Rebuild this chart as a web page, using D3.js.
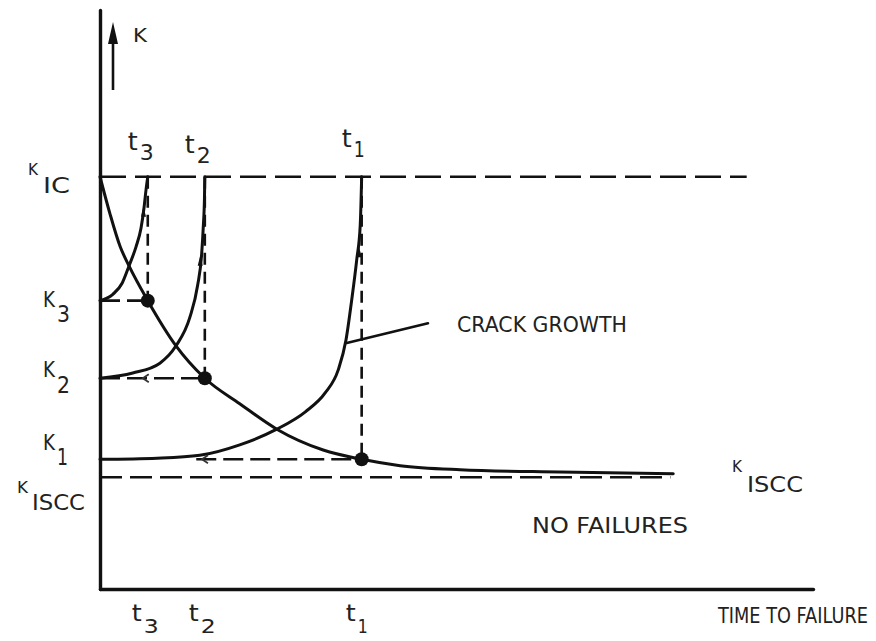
<!DOCTYPE html>
<html>
<head>
<meta charset="utf-8">
<script src="https://cdn.jsdelivr.net/npm/d3@7"></script>
<style>
  html, body { margin: 0; padding: 0; background: #fff; }
  svg { display: block; }
  text { font-family: "DejaVu Sans", "Liberation Sans", sans-serif; fill: #222; }
</style>
</head>
<body>
<div id="chart"></div>
<script>
// Stress-intensity levels (arbitrary units on the K axis)
const levelNames  = ["IC", "3", "2", "1", "ISCC"];
const levelValues = [71.2, 49.8, 36.4, 22.4, 19.3];

// Failure times for the three starting levels (t3, t2, t1)
const failNames = ["3", "2", "1"];
const failTimes = [6.7, 14.7, 36.7];

// Time-to-failure curve: initial K versus time to failure
const fractureT = [0, 1.4, 2.81, 4.07, 6.7, 10.66, 14.7, 19.6, 24.8, 31.3, 36.7, 42.1, 50.5, 64.5, 80.4];
const fractureK = [71.2, 64.8, 59.2, 55.8, 49.8, 42.0, 36.4, 32.0, 27.6, 24.0, 22.4, 21.3, 20.6, 20.2, 19.9];

// Crack-growth histories, K rising with time until K_IC is reached
const growth3T = [0, 1.8, 3.1, 4.07, 5.05, 5.75, 6.17, 6.45, 6.7];
const growth3K = [49.8, 50.9, 52.8, 55.8, 59.1, 62.3, 65.8, 68.9, 71.2];
const growth2T = [0, 4.6, 8.4, 10.66, 12.6, 13.7, 14.25, 14.5, 14.65, 14.7];
const growth2K = [36.4, 37.3, 39.0, 42.0, 46.9, 52.5, 57.7, 62.9, 67.4, 71.2];
const growth1T = [0, 8.0, 14.0, 19.6, 24.8, 28.8, 31.6, 33.4, 34.5, 35.3, 36.0, 36.5, 36.7];
const growth1K = [22.4, 22.6, 23.1, 24.9, 27.6, 30.6, 33.9, 37.8, 43.0, 49.9, 56.8, 62.9, 71.2];

// Small direction marks along the growth curves [t, K]
const growthMarks = [[6.1, 65.0], [14.05, 56.5], [36.35, 58.0]];
// Small back-pointing marks on the level lines [t, K]
const levelMarks = [[6.0, 36.4], [14.3, 22.4]];

// Extents of the reference lines and the annotation leader
const icLineEnd   = 90.7;
const isccLineEnd = 80.0;
const k1DashStart = 13.5;
const leaderT = [34.6, 46.0];
const leaderK = [42.5, 45.9];

const W = 876, H = 641;
const svg = d3.select("#chart").append("svg")
  .attr("width", W).attr("height", H)
  .attr("viewBox", `0 0 ${W} ${H}`);
svg.append("rect").attr("width", W).attr("height", H).attr("fill", "#fff");

const x = d3.scaleLinear().domain([0, 100]).range([100, 813]);
const y = d3.scaleLinear().domain([0, 100]).range([589, 10]);

const INK = "#111";

// Axes: bare lines, no ticks
const xAxis = svg.append("g").attr("transform", `translate(0,${y(0)})`)
  .call(d3.axisBottom(x).tickValues([]).tickSizeOuter(0));
const yAxis = svg.append("g").attr("transform", `translate(${x(0)},0)`)
  .call(d3.axisLeft(y).tickValues([]).tickSizeOuter(0));
[xAxis, yAxis].forEach(g => g.select(".domain")
  .attr("stroke", INK).attr("stroke-width", 3.4).attr("stroke-linecap", "round"));

// K direction arrow
const arrowX = 113;
svg.append("line").attr("x1", arrowX).attr("x2", arrowX).attr("y1", 90).attr("y2", 38)
  .attr("stroke", INK).attr("stroke-width", 2.6);
svg.append("path").attr("d", `M${arrowX},22 L${arrowX - 5},44 L${arrowX + 5},44 Z`).attr("fill", INK);

// Dashed reference lines
const dashed = svg.append("g").attr("fill", "none").attr("stroke", INK).attr("stroke-width", 2.6);
const kIC = levelValues[0];
dashed.append("line")
  .attr("x1", x(0)).attr("x2", x(icLineEnd)).attr("y1", y(kIC)).attr("y2", y(kIC))
  .attr("stroke-dasharray", "26,9");
dashed.append("line")
  .attr("x1", x(0)).attr("x2", x(isccLineEnd)).attr("y1", y(levelValues[4])).attr("y2", y(levelValues[4]))
  .attr("stroke-dasharray", "22,8");
failTimes.forEach((t, i) => {
  const k = levelValues[i + 1];
  const start = i === 2 ? k1DashStart : 0;
  dashed.append("line")
    .attr("x1", x(start)).attr("x2", x(t)).attr("y1", y(k)).attr("y2", y(k))
    .attr("stroke-dasharray", "20,7");
  dashed.append("line")
    .attr("x1", x(t)).attr("x2", x(t)).attr("y1", y(kIC)).attr("y2", y(k))
    .attr("stroke-dasharray", "12,7");
});

// Curves
const line = d3.line().x(d => x(d[0])).y(d => y(d[1])).curve(d3.curveMonotoneX);
const curves = svg.append("g").attr("fill", "none").attr("stroke", INK)
  .attr("stroke-width", 3).attr("stroke-linecap", "round");
[[fractureT, fractureK], [growth3T, growth3K], [growth2T, growth2K], [growth1T, growth1K]]
  .forEach(([ts, ks]) => curves.append("path").attr("d", line(d3.zip(ts, ks))));

// Leader to the crack-growth label
curves.append("path").attr("stroke-width", 2.6)
  .attr("d", d3.line().x(d => x(d[0])).y(d => y(d[1]))(d3.zip(leaderT, leaderK)));

// Direction marks
svg.append("g").selectAll("path.up")
  .data(growthMarks).join("path")
  .attr("d", d => `M${x(d[0])},${y(d[1]) - 6} L${x(d[0]) - 2.5},${y(d[1]) + 4} L${x(d[0]) + 2.5},${y(d[1]) + 4} Z`)
  .attr("fill", INK);
svg.append("g").attr("fill", "none").attr("stroke", "#333").attr("stroke-width", 1.8)
  .selectAll("path").data(levelMarks).join("path")
  .attr("d", d => `M${x(d[0]) + 6},${y(d[1]) - 4} L${x(d[0])},${y(d[1])} L${x(d[0]) + 6},${y(d[1]) + 4}`);

// Failure points
svg.append("g").selectAll("circle")
  .data(failTimes.map((t, i) => [t, levelValues[i + 1]]))
  .join("circle")
  .attr("cx", d => x(d[0])).attr("cy", d => y(d[1])).attr("r", 7).attr("fill", INK);

// Text helper: left edge, baseline, size, target width (glyphs squeezed horizontally)
function txt(str, left, base, size, len) {
  const t = svg.append("text").attr("font-size", size).text(str);
  const natural = t.node().getComputedTextLength() || len;
  t.attr("transform", `translate(${left},${base}) scale(${len / natural},1)`);
  return t;
}

// K axis label
txt("K", 133, 42, 20, 14);

// Level labels on the left
txt("K", 28, 175, 16, 10);  txt(levelNames[0], 43, 193, 22, 27);
txt("K", 43, 307, 21, 12);  txt(levelNames[1], 57, 322, 23, 13);
txt("K", 43, 377, 21, 12);  txt(levelNames[2], 57, 393, 23, 13);
txt("K", 43, 450, 21, 12);  txt(levelNames[3], 57, 465, 23, 11);
txt("K", 17, 493, 16, 11);  txt(levelNames[4], 32, 510, 22, 53);

// Threshold label on the right
txt("K", 732, 472, 16, 10); txt(levelNames[4], 747, 492, 22, 56);

// Failure-time labels above the K_IC line and under the time axis
failTimes.forEach((t, i) => {
  const cx = x(t);
  const topBase = [150, 153, 147][i];
  txt("t", cx - 20, topBase, 24, 10);
  txt(failNames[i], cx - 8, topBase + 10, 22, failNames[i] === "1" ? 11 : 14);
  txt("t", cx - 16, 621, 23, 10);
  txt(failNames[i], cx - 4, 633, 20, failNames[i] === "1" ? 10 : 15);
});

// Annotations
txt("CRACK GROWTH", 457, 332, 22, 170);
txt("NO FAILURES", 532, 533, 22, 156);
txt("TIME TO FAILURE", 718, 623, 22, 150);
</script>
</body>
</html>
